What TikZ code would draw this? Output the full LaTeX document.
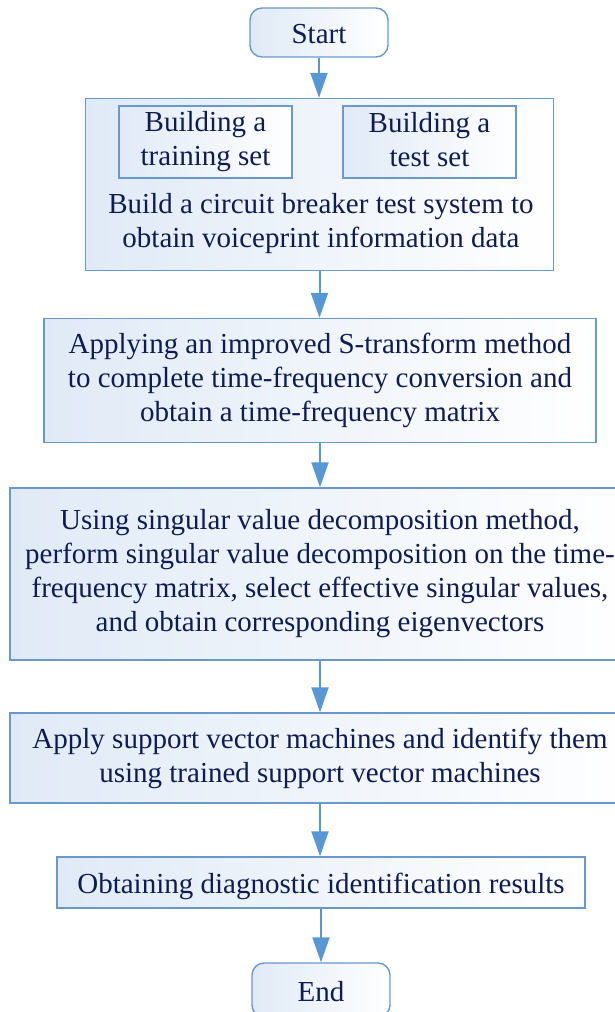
\documentclass[tikz,border=0pt]{standalone}
\usepackage{fontspec}
\setmainfont{Liberation Serif}
\usetikzlibrary{arrows.meta}
\definecolor{bordc}{RGB}{104,152,204}
\definecolor{arrc}{RGB}{88,150,212}
\definecolor{fillc}{RGB}{224,234,246}
\definecolor{textc}{RGB}{14,28,84}
\newcommand{\mystrut}{\rule[-6pt]{0pt}{34pt}}
\newcommand{\mytallstrut}{\rule[-6pt]{0pt}{40pt}}
\tikzset{
  txt/.style={text=textc, font=\fontsize{29}{34}\selectfont, align=center, inner sep=0pt,
    execute at begin node=\mystrut, execute at end node=\mystrut},
  lower/.style={execute at begin node=\mytallstrut},
  box/.style={txt, draw=bordc, line width=1.4pt, left color=fillc, right color=white},
  term/.style={box, rounded corners=12pt},
  lbl/.style={txt},
  arr/.style={draw=arrc, line width=2pt, -{Triangle[length=25pt,width=17pt]}}
}
\begin{document}
\begin{tikzpicture}[x=1pt,y=-1pt]
\useasboundingbox (0,0) rectangle (615,1012);
\node[term, minimum width=138pt, minimum height=49pt] (start) at (319,32.5) {Start};
\node[box, minimum width=468pt, minimum height=172pt] (b1) at (319.5,184.5) {};
\node[box, lower, minimum width=173pt, minimum height=72pt] (tr) at (205.5,142) {Building a\\training set};
\node[box, lower, minimum width=173pt, minimum height=72pt] (ts) at (429.5,142) {Building a\\test set};
\node[lbl] (b1t) at (321,223.5) {Build a circuit breaker test system to\\obtain voiceprint information data};
\node[box, lower, minimum width=552pt, minimum height=124pt] (b2) at (320,380.5) {Applying an improved S-transform method\\to complete time-frequency conversion and\\obtain a time-frequency matrix};
\node[box, minimum width=620pt, minimum height=172pt] (b3) at (320,574) {Using singular value decomposition method,\\perform singular value decomposition on the time-\\frequency matrix, select effective singular values,\\and obtain corresponding eigenvectors};
\node[box, minimum width=620pt, minimum height=90pt] (b4) at (320,758) {Apply support vector machines and identify them\\using trained support vector machines};
\node[box, minimum width=528pt, minimum height=51pt] (b5) at (321,882.5) {Obtaining diagnostic identification results};
\node[term, minimum width=138pt, minimum height=54pt] (end) at (321,990) {End};
\draw[arr] (start.south) -- (start.south |- b1.north);
\draw[arr] (b1.south) -- (b1.south |- b2.north);
\draw[arr] (b2.south) -- (b2.south |- b3.north);
\draw[arr] (b3.south) -- (b3.south |- b4.north);
\draw[arr] (b4.south) -- (b4.south |- b5.north);
\draw[arr] (b5.south) -- (b5.south |- end.north);
\end{tikzpicture}
\end{document}
